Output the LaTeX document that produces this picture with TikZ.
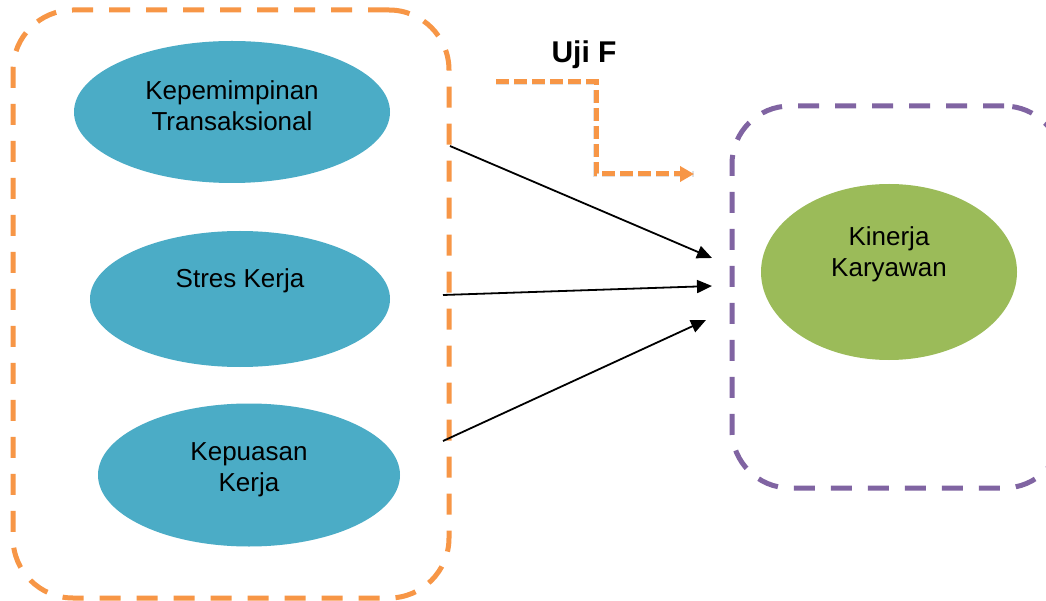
\documentclass[tikz,border=0pt]{standalone}
\usepackage{fontspec}
\setmainfont{Liberation Sans}
\usetikzlibrary{arrows.meta,shapes.geometric}
\definecolor{orng}{HTML}{F79646}
\definecolor{purp}{HTML}{8064A2}
\definecolor{tealc}{HTML}{4BACC6}
\definecolor{grn}{HTML}{9BBB59}
\tikzset{
  groupbox/.style={draw, line width=5pt, dash pattern=on 21pt off 16pt, rounded corners=60pt, inner sep=0pt},
  varell/.style={ellipse, inner sep=0pt, draw=none},
  lbl/.style={font=\fontsize{26}{31}\selectfont, align=center, text=black},
  link/.style={line width=1.8pt, -{Triangle[length=15pt,width=13pt]}},
  ujiarrow/.style={orng, line width=5pt, dash pattern=on 13pt off 5pt, -{Triangle[length=14pt,width=15pt]}},
}
\begin{document}
\begin{tikzpicture}[x=1pt,y=-1pt]
\useasboundingbox (0,0) rectangle (1046,601);
\clip (0,0) rectangle (1046,601);
\fill[white] (0,0) rectangle (1046,601);
% group boxes
\node[groupbox, draw=orng, minimum width=436pt, minimum height=588pt] (left) at (231,304) {};
\node[groupbox, draw=purp, minimum width=330pt, minimum height=382pt, rounded corners=58pt] (right) at (897,297) {};
% ellipses
\node[varell, fill=tealc, minimum width=316pt, minimum height=142pt] (kt) at (232,112) {};
\node[lbl] (ktl) at (232,106) {Kepemimpinan\\Transaksional};
\node[varell, fill=tealc, minimum width=300pt, minimum height=136pt] (sk) at (240,299) {};
\node[lbl] (skl) at (240,281) {Stres Kerja};
\node[varell, fill=tealc, minimum width=302pt, minimum height=143pt] (kk) at (249,475) {};
\node[lbl] (kkl) at (249,470) {Kepuasan\\Kerja};
\node[varell, fill=grn, minimum width=256pt, minimum height=176pt] (kin) at (889,272) {};
\node[lbl] (kinl) at (889,254) {Kinerja\\Karyawan};
% connector endpoints
\coordinate (s1) at (450,146);
\coordinate (e1) at (712,258);
\coordinate (s2) at (443,295);
\coordinate (e2) at (712,286);
\coordinate (s3) at (443,441);
\coordinate (e3) at (706,320);
\draw[link] (s1) -- (e1);
\draw[link] (s2) -- (e2);
\draw[link] (s3) -- (e3);
% Uji F
\node[font=\fontsize{30}{36}\selectfont\bfseries] (uji) at (584,55) {Uji F};
\coordinate (u0) at (496,82);
\coordinate (u1) at (596,82);
\coordinate (u2) at (596,174);
\coordinate (u3) at (694,174);
\draw[black, opacity=0.12, line width=6pt, dash pattern=on 13pt off 5pt, shift={(2pt,-3pt)}] (u0) -- (u1) -- (u2) -- (u3);
\draw[ujiarrow] (u0) -- (u1) -- (u2) -- (u3);
\end{tikzpicture}
\end{document}
